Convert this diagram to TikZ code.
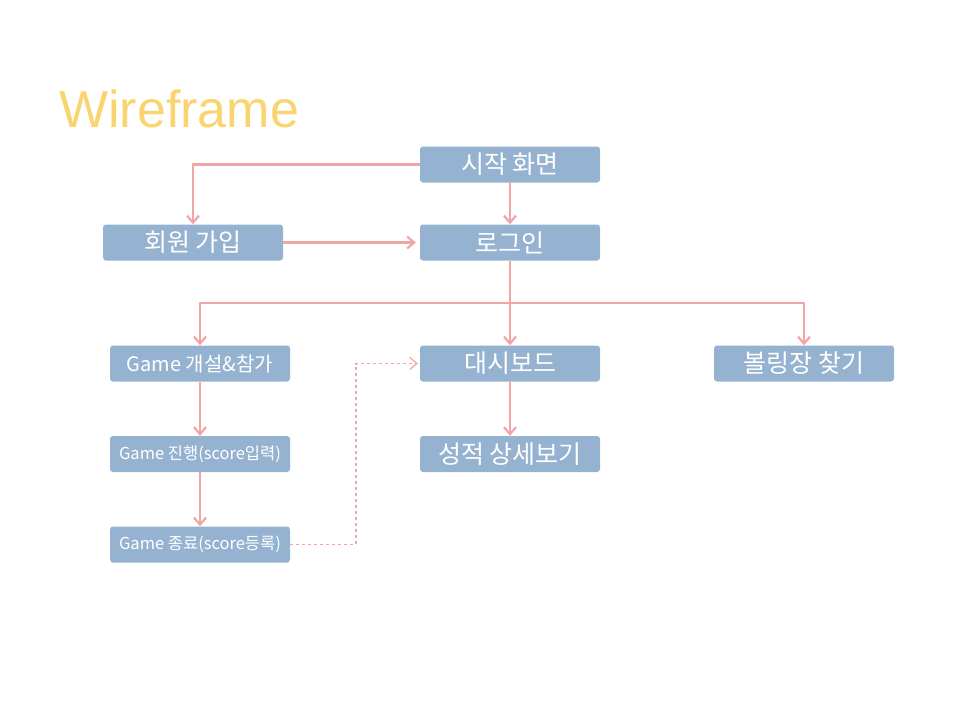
\documentclass[tikz,border=0pt]{standalone}
\usepackage{fontspec}
\setmainfont{Liberation Sans}
\newfontfamily\kor{Noto Sans CJK KR}
\usetikzlibrary{arrows.meta}
\definecolor{boxblue}{HTML}{95B3D0}
\definecolor{linkpink}{HTML}{F2A5A5}
\definecolor{titleyellow}{HTML}{FAD46E}
\tikzset{
  screen/.style={draw=none,fill=boxblue,rounded corners=3pt,minimum width=180pt,
    minimum height=36pt,inner sep=0pt,text=white,font=\kor\fontsize{25}{28}\selectfont},
  gamescreen/.style={screen,font=\kor\fontsize{20}{24}\selectfont},
  smallscreen/.style={screen,font=\kor\fontsize{16.5}{20}\selectfont},
  link/.style={draw=linkpink,line width=2.2pt,-{Straight Barb[length=7pt,width=12pt]}},
}
\begin{document}
\begin{tikzpicture}[x=1pt,y=1pt]
      \useasboundingbox (0,0) rectangle (960,-720);
      \node[anchor=base west,text=titleyellow,font=\fontsize{52}{58}\selectfont,inner sep=0pt]
        (title) at (59,-127) {Wireframe};
      \draw
        (510,-164.5) node[screen] (start){시작 화면}
        (193,-242.5) node[screen] (join){회원 가입}
        (510,-242.5) node[screen] (login){로그인}
        (200,-363.5) node[gamescreen] (open){Game 개설\&참가}
        (510,-363.5) node[screen] (dash){대시보드}
        (804,-363.5) node[screen] (alley){볼링장 찾기}
        (200,-454) node[smallscreen] (play){Game 진행(score입력)}
        (510,-454) node[screen] (detail){성적 상세보기}
        (200,-544.5) node[smallscreen] (end){Game 종료(score등록)};
      \coordinate (split) at (510,-303);
      \begin{scope}[link]
        \draw (start.west) -| (join.north);
        \draw (start) to (login);
        \draw (join.east) to ([xshift=-4pt]login.west);
        \draw (login.south) -- (split) -| (open.north);
        \draw (login.south) to (dash.north);
        \draw (split) -| (alley.north);
        \draw (open) to (play);
        \draw (play) to (end);
        \draw (dash) to (detail);
        \draw[line width=1.2pt,dashed] (end.east) -- (356,-544.5) |- ([xshift=-2pt]dash.west);
      \end{scope}
    \end{tikzpicture}
\end{document}
